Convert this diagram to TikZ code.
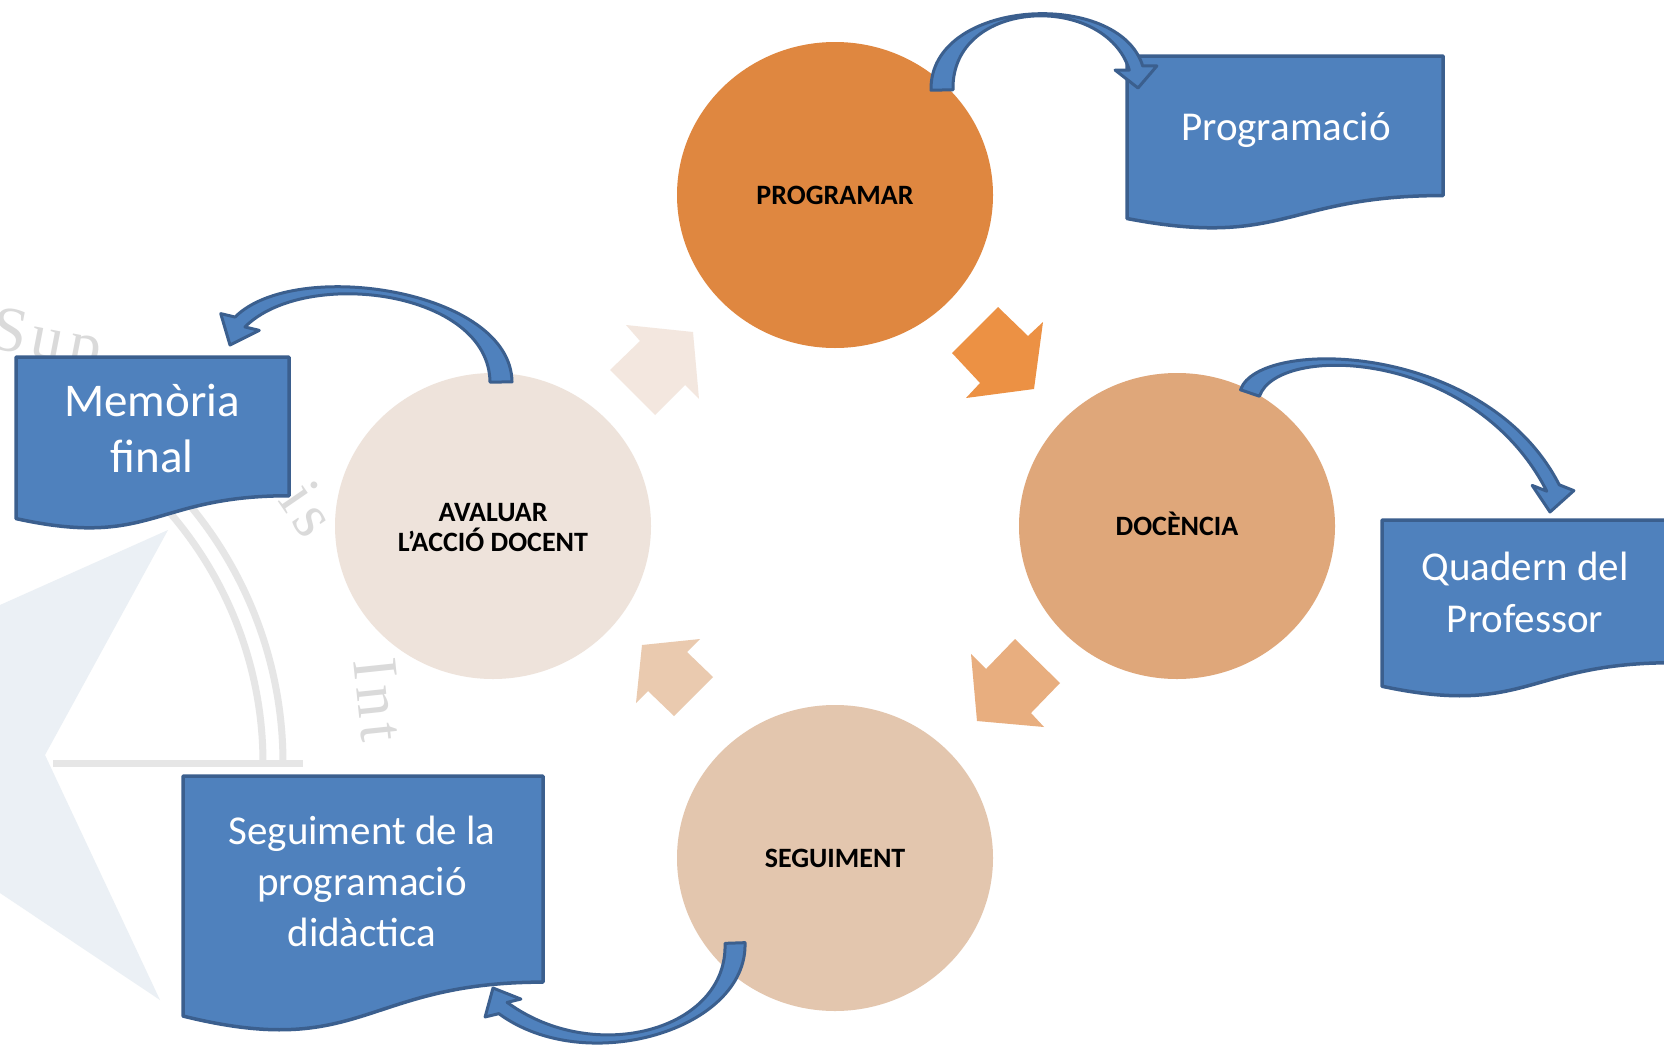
\documentclass[tikz,border=0pt]{standalone}
\usepackage{fontspec}
\setmainfont{Carlito}
\newfontfamily\wmfont{Liberation Serif}
\usetikzlibrary{calc,shapes.geometric}
\definecolor{docblue}{HTML}{4F81BD}
\definecolor{docedge}{HTML}{3B5F8E}
\definecolor{cprog}{HTML}{DF8740}
\definecolor{cdoc}{HTML}{DFA77A}
\definecolor{cseg}{HTML}{E3C6AE}
\definecolor{caval}{HTML}{EEE3DB}
\definecolor{chTR}{HTML}{EC9144}
\definecolor{chBR}{HTML}{E8AE7F}
\definecolor{chBL}{HTML}{EACAAF}
\definecolor{chTL}{HTML}{F3E7DF}
\definecolor{wmblue}{HTML}{EBF0F5}
\definecolor{wmgray}{HTML}{E6E6E6}
\definecolor{wmtext}{HTML}{DADADA}
\tikzset{
  docbox/.style={fill=docblue, draw=docedge, line width=1.75pt, line join=round},
  boxtext/.style={text=white, align=center, inner sep=0pt, anchor=base},
  stage/.style={ellipse, minimum width=158pt, minimum height=153pt, inner sep=0pt},
  stagetext/.style={font=\bfseries\fontsize{14}{15}\selectfont, align=center, inner sep=0pt, anchor=base},
  curvearrow/.style={fill=docblue, draw=docedge, line width=1.5pt, line join=round},
  wmword/.style={text=wmtext, font=\wmfont\fontsize{32}{32}\selectfont, inner sep=0pt, anchor=base},
  wmline/.style={draw=wmgray, line width=3.5pt},
}
\newcommand{\docshape}[4]{%
  \path[docbox] (#1,#2) -- (#1+#3,#2) -- (#1+#3,#2+0.802*#4)
    .. controls (#1+0.5*#3,#2+0.802*#4) and (#1+0.5*#3,#2+1.1075*#4) .. (#1,#2+0.934*#4) -- cycle;}
\newcommand{\curvedarrow}[8]{%
  \coordinate (ca0) at #1; \coordinate (ca1) at #2; \coordinate (ca2) at #3;
  \coordinate (ca3) at #4; \coordinate (ca5) at #5;
  \path ($(ca0)!#6!90:(ca1)$) coordinate (o0)
        ($(ca0)!#6!-90:(ca1)$) coordinate (i0)
        ($(ca3)!#7!-90:(ca2)$) coordinate (o3)
        ($(ca3)!#7!90:(ca2)$) coordinate (i3)
        ($(ca3)!#8!90:(ca5)$) coordinate (bo)
        ($(ca3)!#8!-90:(ca5)$) coordinate (bi);
  \path ($(ca1)+(o0)-(ca0)$) coordinate (o1)
        ($(ca1)+(i0)-(ca0)$) coordinate (i1)
        ($(ca2)+(o3)-(ca3)$) coordinate (o2)
        ($(ca2)+(i3)-(ca3)$) coordinate (i2);
  \path[curvearrow] (o0) .. controls (o1) and (o2) .. (o3) -- (bo) -- (ca5) -- (bi)
        -- (i3) .. controls (i2) and (i1) .. (i0) -- cycle;}
\begin{document}
\begin{tikzpicture}[x=0.5pt,y=-0.5pt]
\path[use as bounding box] (0,0) rectangle (1664,1044);
\clip (0,0) rectangle (1664,1044);
\fill[white] (0,0) rectangle (1664,1044);
% watermark
\fill[wmblue] (0,605) -- (168,530) -- (45,755) -- (160,1000) -- (0,893) -- cycle;
\draw[wmline] (263,763) arc[start angle=0, end angle=52, radius=191.5pt];
\draw[wmline] (283,763) arc[start angle=0, end angle=52, radius=201.5pt];
\draw[wmline] (53,763) -- (303,763);
\node[wmword, rotate=-11] (wmsup) at ({-32+392*sin(11)},{743-392*cos(11)}) {S\kern3pt u\kern3pt p};
\node[wmword, rotate=-55.5] (wmis) at ({-32+392*sin(55.5)},{743-392*cos(55.5)}) {i\kern3pt s};
\node[wmword, rotate=-84] (wmint) at ({-32+392*sin(84)},{743-392*cos(84)}) {I\kern3pt n\kern3pt t};
% stages
\node[stage, fill=cprog] (prog) at (835,195) {};
\node[stage, fill=cdoc] (doc) at (1177,526) {};
\node[stage, fill=cseg] (seg) at (835,858) {};
\node[stage, fill=caval] (aval) at (493,526) {};
% chevron arrows
\fill[chTR] (998,307) -- (1028,336) -- (1043,322) -- (1034,389) -- (966,398) -- (980,383) -- (952,353) -- cycle;
\fill[chBR] (1015,639) -- (1060,683) -- (1031,713) -- (1044,727) -- (977,721) -- (971,654) -- (986,669) -- cycle;
\fill[chBL] (700,639) -- (687,652) -- (713,677) -- (674,716) -- (648,691) -- (636,703) -- (642,645) -- cycle;
\fill[chTL] (626,325) -- (693,332) -- (699,399) -- (685,385) -- (655,415) -- (610,370) -- (640,341) -- cycle;
% document boxes
\docshape{1127}{56}{316}{174}
\docshape{16}{357}{273}{173}
\docshape{1382}{520}{290}{178}
\docshape{183}{776}{360}{257}
% curved arrows
\coordinate (progtail) at (942,90);  \coordinate (progend) at (1136,68);  \coordinate (progtip) at (1138,88);
\coordinate (doctail) at (1250,393); \coordinate (docend) at (1553,488);  \coordinate (doctip) at (1550,512);
\coordinate (avaltail) at (501,382); \coordinate (avalend) at (240,322);  \coordinate (avaltip) at (230,345);
\coordinate (segtail) at (735,943);  \coordinate (segend) at (503,1008);  \coordinate (segtip) at (493,988);
\curvedarrow{(progtail)}{(940,-2)}{(1112,-10)}{(progend)}{(progtip)}{5.5pt}{3.5pt}{10.5pt}
\curvedarrow{(doctail)}{(1268,340)}{(1480,345)}{(docend)}{(doctip)}{5pt}{3.5pt}{10.5pt}
\curvedarrow{(avaltail)}{(500,290)}{(300,262)}{(avalend)}{(avaltip)}{5.5pt}{3.5pt}{10.5pt}
\curvedarrow{(segtail)}{(738,1030)}{(590,1072)}{(segend)}{(segtip)}{5pt}{3.5pt}{10pt}
% texts
\node[boxtext, font=\fontsize{20.5}{25.5}\selectfont] (tprog) at (1286,140) {Programació};
\node[boxtext, font=\fontsize{23.5}{28}\selectfont] (tmem) at (152,472) {Memòria\\final};
\node[boxtext, font=\fontsize{20.5}{26}\selectfont] (tquad) at (1525,632) {Quadern del\\Professor};
\node[boxtext, font=\fontsize{20.5}{25.5}\selectfont] (tseg) at (362,946) {Seguiment de la\\programació\\didàctica};
\node[stagetext] (lprog) at (835,204) {PROGRAMAR};
\node[stagetext] (ldoc) at (1177,535) {DOCÈNCIA};
\node[stagetext] (lseg) at (835,867) {SEGUIMENT};
\node[stagetext] (laval) at (493,551) {AVALUAR\\L’ACCIÓ DOCENT};
\end{tikzpicture}
\end{document}
